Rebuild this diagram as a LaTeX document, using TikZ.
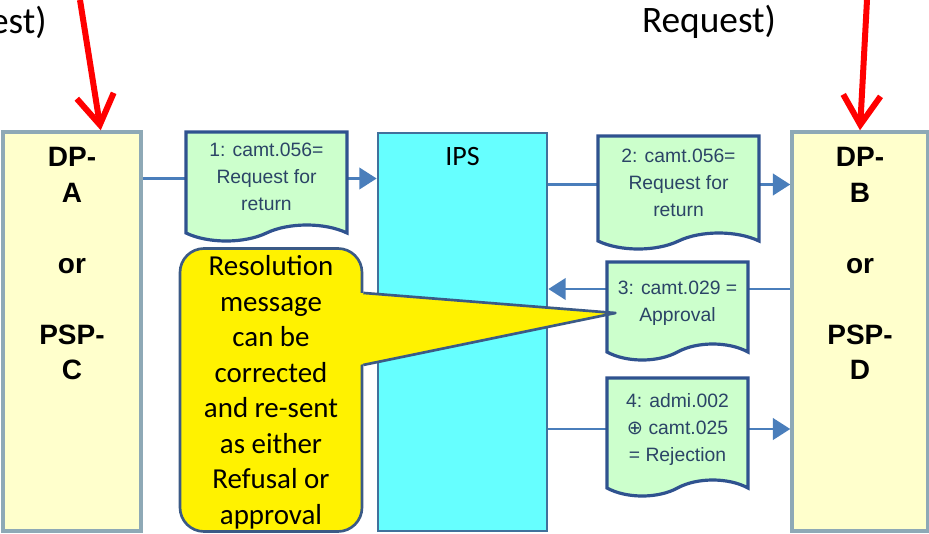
\documentclass[tikz,border=0pt]{standalone}
\usepackage{fontspec}
\newfontfamily\arialfont{Liberation Sans}
\newfontfamily\calibrifont{Carlito}
\newfontfamily\symbolfont{DejaVu Sans}
\usepackage{tikz}
\usetikzlibrary
  {
    arrows.meta,     % arrow tips
    backgrounds,     % connectors behind the messages
    positioning,     % place nodes relative to other nodes
    calc,
    shapes.symbols,  % tape shape for the messages
  }
\definecolor{partyfill}{HTML}{FFFFCC}
\definecolor{partyline}{HTML}{8EA9B6}
\definecolor{ipsfill}{HTML}{66FFFF}
\definecolor{ipsline}{HTML}{41719C}
\definecolor{msgfill}{HTML}{CCFFCC}
\definecolor{msgline}{HTML}{2F528F}
\definecolor{msgtext}{HTML}{2B4466}
\definecolor{flowline}{HTML}{4A7EBB}
\definecolor{noteline}{HTML}{3B5A86}
\newdimen\px \px=0.75pt

\begin{document}
\begin{tikzpicture}
    [
      x=0.75pt, y=-0.75pt,
      party/.style=
        {
          rectangle,
          draw=partyline,
          fill=partyfill,
          line width=2.6pt,
          minimum height=399\px,
        },
      partytext/.style=
        {
          inner sep=0pt,
          align=center,
          font=\arialfont\bfseries\fontsize{21}{26.6}\selectfont,
        },
      ips/.style=
        {
          rectangle,
          draw=ipsline,
          fill=ipsfill,
          line width=2pt,
          minimum width=169\px,
          minimum height=398\px,
        },
      msg/.style=
        {
          tape,
          tape bend top=none,
          tape bend height=12pt,
          draw=msgline,
          fill=msgfill,
          line width=2.4pt,
          text=msgtext,
          inner sep=0pt,
          text depth=2pt,
          align=center,
          font=\arialfont\fontsize{14.5}{20.3}\selectfont,
        },
      note/.style=
        {
          rectangle,
          rounded corners=18pt,
          draw=noteline,
          fill=yellow,
          line width=2pt,
          minimum width=182\px,
          minimum height=283\px,
          text depth=0pt,
          align=center,
          font=\calibrifont\fontsize{21.7}{26.6}\selectfont,
        },
      flow/.style={draw=flowline, line width=2.2pt, -{Triangle[length=13pt, width=16pt]}},
      hint/.style={draw=red, line width=4.5pt, -{Straight Barb[length=22pt, width=28pt]}},
      toptext/.style={inner sep=0pt, font=\calibrifont\fontsize{28}{33}\selectfont},
    ]
    \useasboundingbox (0,0) rectangle (929,533);

    \node[toptext, anchor=east] (title left)  at (47,22)  {est)};
    \node[toptext]              (title right) at (709,22) {Request)};

    \node[party, minimum width=138\px] (dpa) at (72,331.5)  {};
    \node[party, minimum width=136\px] (dpb) at (860,331.5) {};
    \node[partytext, below=17\px of dpa.north] (dpa text)
      {DP-\\A\\[26.6pt]or\\[26.6pt]PSP-\\C};
    \node[partytext, below=17\px of dpb.north] (dpb text)
      {DP-\\B\\[26.6pt]or\\[26.6pt]PSP-\\D};

    \node[ips] (ips) at (462.5,332) {};
    \node[inner sep=0pt, font=\calibrifont\fontsize{21}{25}\selectfont,
          below=15\px of ips.north] (ips text) {IPS};

    \node[msg, minimum width=161\px, minimum height=109\px] (d1) at (266.5,178.5)
      {1: camt.056=\\Request for\\return};
    \node[msg, minimum width=161\px, minimum height=113\px] (d2) at (678.5,184.5)
      {2: camt.056=\\Request for\\return};
    \node[msg, minimum width=141\px, minimum height=98\px]  (d3) at (677.5,303)
      {3: camt.029 =\\Approval};
    \node[msg, minimum width=141\px, minimum height=118\px] (d4) at (677.5,429)
      {4: admi.002\\{\symbolfont ⊕} camt.025\\= Rejection};

    \begin{pgfonlayer}{background}
      \draw[flow] (dpa.east |- d1) -- (ips.west |- d1);
      \draw[flow] (ips.east |- d2) -- (dpb.west |- d2);
      \draw[flow] ([yshift=10.5pt]dpb.west |- d3) -- ([yshift=10.5pt]ips.east |- d3);
      \draw[flow] (ips.east |- d4) -- (dpb.west |- d4);
    \end{pgfonlayer}

    % callout pointing at the approval
    \node[note] (note) at (271,390)
      {Resolution\\message\\can be\\corrected\\and re-sent\\as either\\Refusal or\\approval};
    \coordinate (note tip) at ($(d3.west)+(10,10)$);
    \fill[yellow] ([xshift=-3pt,yshift=72.8pt]note.east) -- (note tip)
      -- ([xshift=-3pt,yshift=18.8pt]note.east) -- cycle;
    \draw[noteline, line width=2pt, line join=round]
      ([yshift=72.8pt]note.east) -- (note tip) -- ([yshift=18.8pt]note.east);

    \coordinate (dpa top) at (80,0);
    \coordinate (dpb top) at (867,0);
    \draw[hint] (dpa top) -- ([xshift=-42\px]dpa.north east);
    \draw[hint] (dpb top) -- (dpb.north);
  \end{tikzpicture}
\end{document}
